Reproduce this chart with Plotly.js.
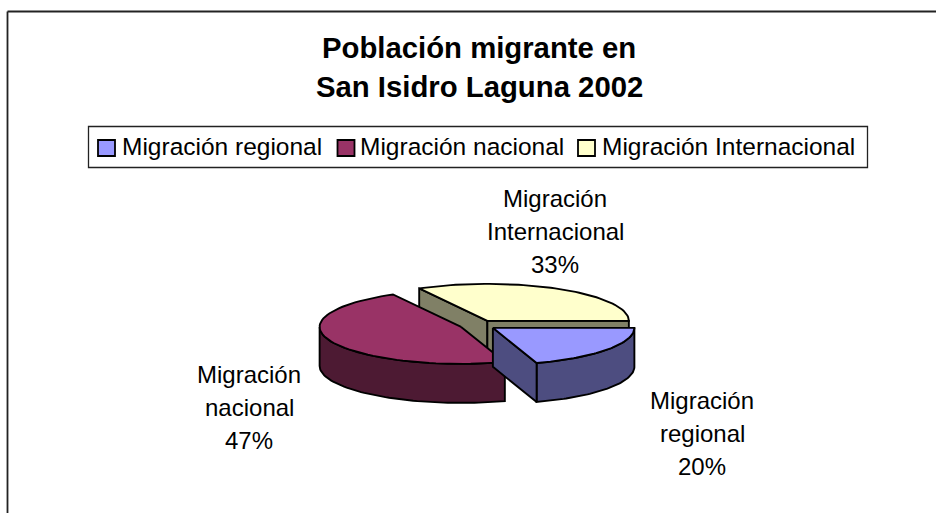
<!DOCTYPE html>
<html>
<head>
<meta charset="utf-8">
<script src="https://cdn.plot.ly/plotly-3.0.1.min.js"></script>
<style>html,body{margin:0;padding:0;background:#fff}#c{width:936px;height:513px}</style>
</head>
<body>
<div id="c"></div>
<script>
var categories = ["Migración regional", "Migración nacional", "Migración Internacional"];
var values = [20, 47, 33];
var sliceLabels = [["Migración", "regional", "20%"], ["Migración", "nacional", "47%"], ["Migración", "Internacional", "33%"]];
var titleLines = ["Población migrante en", "San Isidro Laguna 2002"];
var topColors = ["#9999FF", "#993366", "#FFFFCC"];
var sideColors = ["#4D4D80", "#4D1A33", "#808066"];

var W = 936, H = 513;
var cx = 478, cy = 325, rx = 141.5, ry = 37, depth = 39, explode = 0.13;
var FONT = "Liberation Sans, Arial, sans-serif";
var LINE = {color: "#000000", width: 1.9};

var total = values.reduce(function (a, b) { return a + b; }, 0);
var slices = [], acc = 0;
values.forEach(function (v, i) {
  var a0 = acc / total * 2 * Math.PI;
  acc += v;
  var a1 = acc / total * 2 * Math.PI;
  var mid = (a0 + a1) / 2;
  slices.push({i: i, a0: a0, a1: a1, ax: cx + explode * rx * Math.cos(mid), ay: cy + explode * ry * Math.sin(mid)});
});

function arc(s, a0, a1, dy) {
  var xs = [], ys = [], n = 60;
  for (var k = 0; k <= n; k++) {
    var t = a0 + (a1 - a0) * k / n;
    xs.push(s.ax + rx * Math.cos(t));
    ys.push(s.ay + ry * Math.sin(t) + dy);
  }
  return {x: xs, y: ys};
}
function poly(xs, ys, color, name) {
  return {type: "scatter", mode: "lines", x: xs.concat([xs[0]]), y: ys.concat([ys[0]]),
    fill: "toself", fillcolor: color, line: LINE, hoverinfo: "skip", showlegend: false, name: name};
}
function topFace(s) {
  var a = arc(s, s.a0, s.a1, 0);
  return poly([s.ax].concat(a.x), [s.ay].concat(a.y), topColors[s.i], categories[s.i]);
}
function cutFace(s, t) {
  var ex = s.ax + rx * Math.cos(t), ey = s.ay + ry * Math.sin(t);
  return poly([s.ax, ex, ex, s.ax], [s.ay, ey, ey + depth, s.ay + depth], sideColors[s.i], categories[s.i]);
}
function outerWall(s) {
  var a0 = Math.max(s.a0, 0), a1 = Math.min(s.a1, Math.PI);
  if (a1 <= a0) return null;
  var up = arc(s, a0, a1, 0), lo = arc(s, a0, a1, depth);
  return poly(up.x.concat(lo.x.slice().reverse()), up.y.concat(lo.y.slice().reverse()), sideColors[s.i], categories[s.i]);
}

var reg = slices[0], nac = slices[1], int_ = slices[2];
var traces = [
  cutFace(int_, int_.a0), cutFace(int_, int_.a1), topFace(int_),
  outerWall(nac), topFace(nac),
  outerWall(reg), cutFace(reg, reg.a1), topFace(reg)
].filter(Boolean);

function text(t, x, y, size, bold, anchor) {
  return {text: t, x: x, y: y, xref: "x", yref: "y", showarrow: false, xanchor: anchor || "center", yanchor: "middle",
    font: {family: FONT, size: size, color: "#000", weight: bold ? 700 : 400}};
}
var annotations = [];
titleLines.forEach(function (t, i) { annotations.push(text(t, 479, 47.5 + i * 38.5, 29.3, true)); });

var labelPos = [[702, 400], [249, 374], [555, 198.5]];
sliceLabels.forEach(function (lines, i) {
  lines.forEach(function (t, k) { annotations.push(text(t, labelPos[i][0], labelPos[i][1] + k * 33, 24, false)); });
});

var legendSwatch = [98, 337.5, 578], legendText = [120, 358, 600];
var shapes = [
  {type: "line", x0: 7.5, y0: 513, x1: 7.5, y1: 11.5, xref: "x", yref: "y", line: {color: "#222", width: 1.8}},
  {type: "line", x0: 7.5, y0: 11.5, x1: 936, y1: 11.5, xref: "x", yref: "y", line: {color: "#222", width: 1.8}},
  {type: "rect", x0: 88.5, y0: 126.5, x1: 867.5, y1: 167.5, xref: "x", yref: "y", line: {color: "#222", width: 1.3}, fillcolor: "#fff", layer: "below"}
];
categories.forEach(function (c, i) {
  shapes.push({type: "rect", x0: legendSwatch[i], x1: legendSwatch[i] + 17, y0: 140, y1: 156, xref: "x", yref: "y",
    fillcolor: topColors[i], line: {color: "#000", width: 1.8}});
  annotations.push(text(c, legendText[i], 146, 24.5, false, "left"));
});

Plotly.newPlot("c", traces, {
  width: W, height: H, margin: {l: 0, r: 0, t: 0, b: 0},
  paper_bgcolor: "#fff", plot_bgcolor: "#fff", showlegend: false,
  xaxis: {range: [0, W], visible: false, fixedrange: true},
  yaxis: {range: [H, 0], visible: false, fixedrange: true},
  shapes: shapes, annotations: annotations
}, {displayModeBar: false, staticPlot: true});
</script>
</body>
</html>
